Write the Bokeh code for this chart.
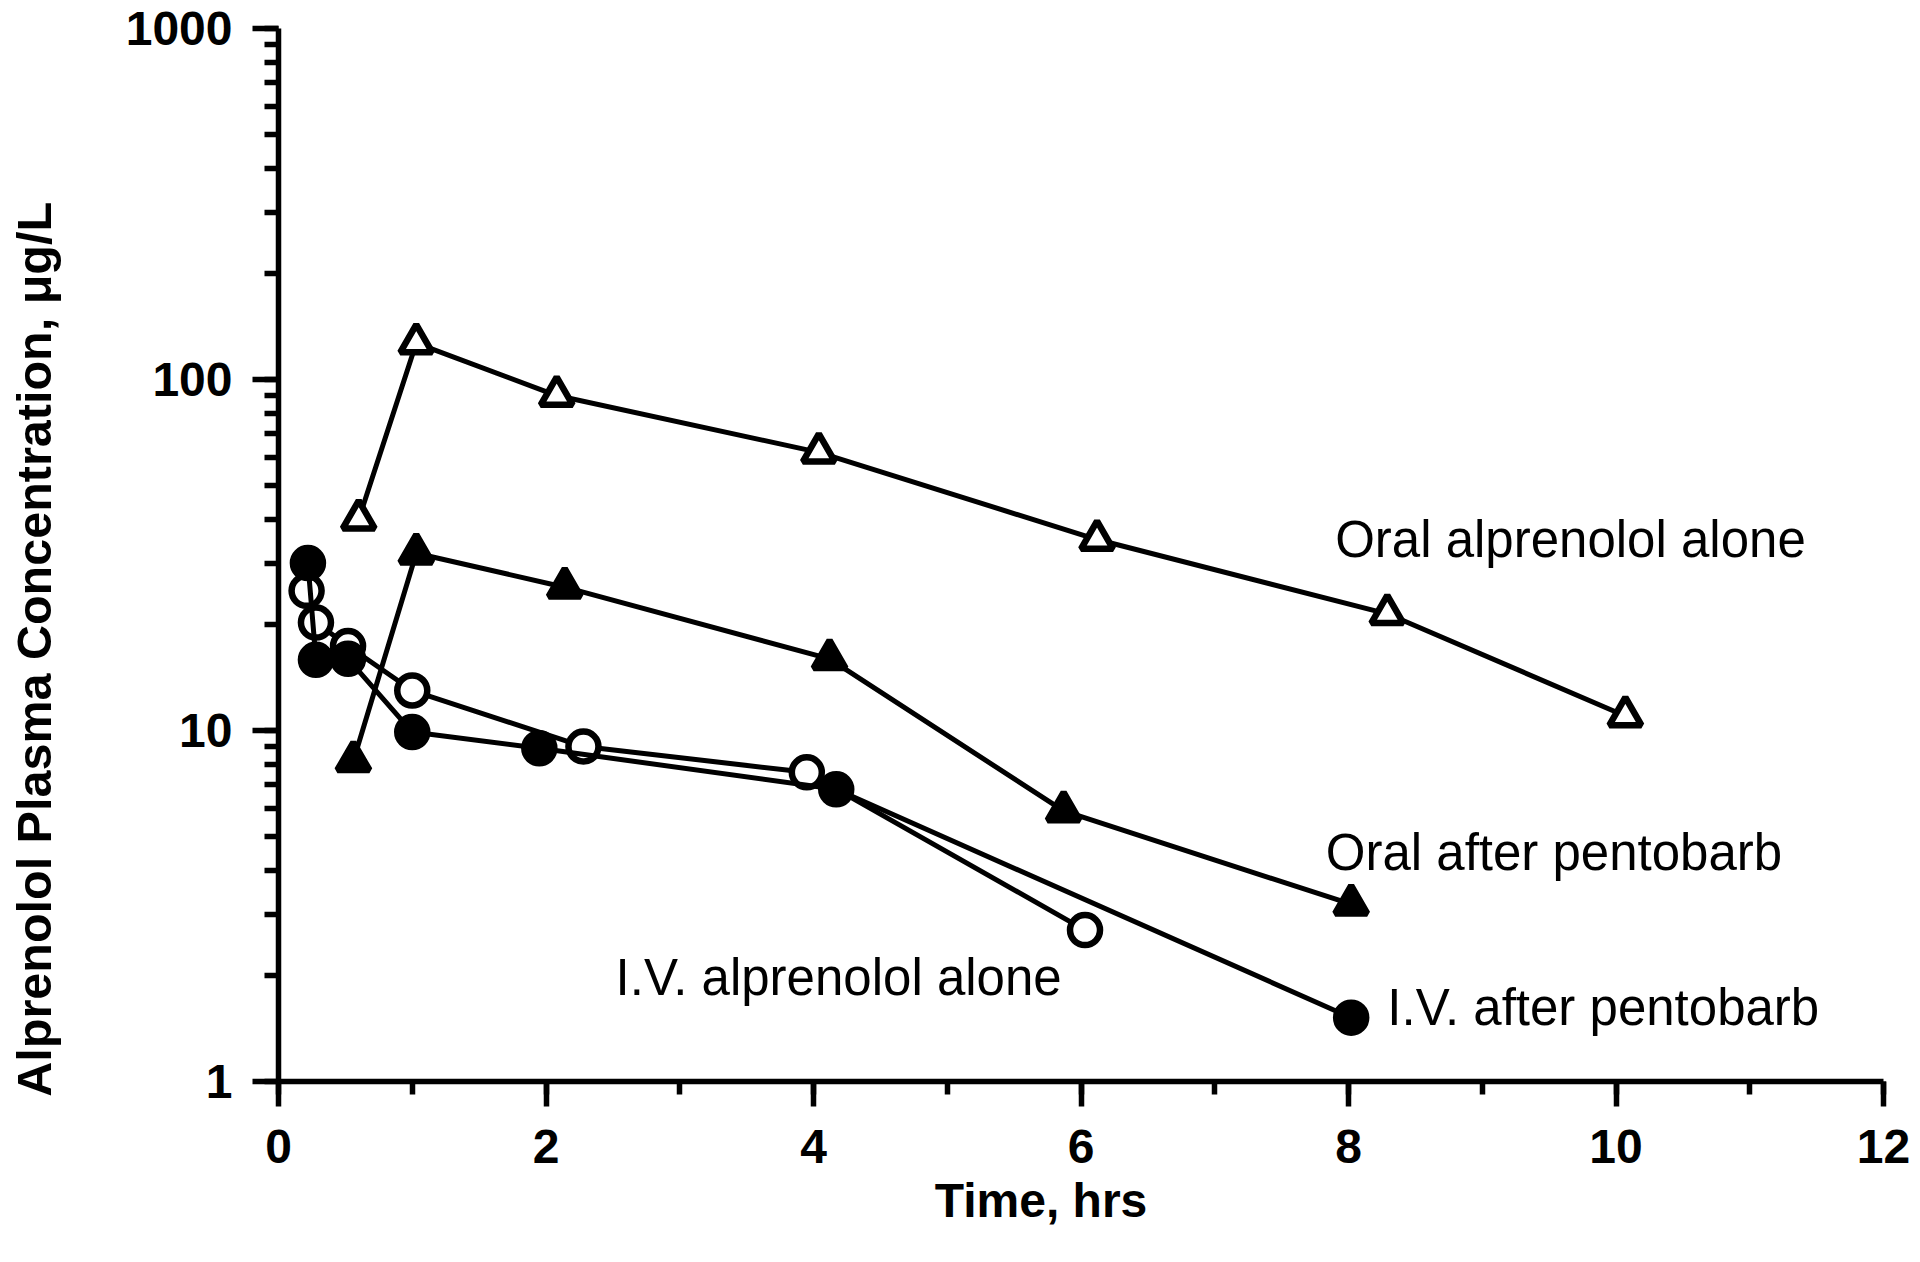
from bokeh.plotting import figure
from bokeh.models import LogTicker, SingleIntervalTicker, Label, Range1d, PrintfTickFormatter
from bokeh.embed import file_html
from bokeh.resources import INLINE

# ---- data (time in hrs, concentration in ug/L) ----
oral_alone_t = [0.6, 1.03, 2.08, 4.04, 6.12, 8.29, 10.07]
oral_alone_c = [40, 127, 90, 62, 35, 21.5, 11]

oral_pento_t = [0.56, 1.03, 2.14, 4.12, 5.87, 8.02]
oral_pento_c = [8.2, 32, 25.6, 16, 5.9, 3.2]

iv_alone_t = [0.21, 0.28, 0.52, 1.0, 2.28, 3.95, 6.03]
iv_alone_c = [25, 20.3, 17.4, 13, 9.0, 7.6, 2.7]

iv_pento_t = [0.22, 0.28, 0.52, 1.0, 1.95, 4.17, 8.02]
iv_pento_c = [30, 15.9, 16, 9.9, 8.9, 6.8, 1.52]

series_labels = ["Oral alprenolol alone", "Oral after pentobarb",
                 "I.V. alprenolol alone", "I.V. after pentobarb"]
label_x = [7.90, 7.83, 2.52, 8.29]
label_y = [35.0, 4.5, 1.98, 1.62]

NBSP = "\u00a0"
x_title = "Time, hrs"
y_title = "Alprenolol Plasma Concentration, \u03bcg/L"

X_MIN, X_MAX = 0, 12
Y_MIN, Y_MAX = 1, 1000

FONT = "Liberation Sans"

# frame placement (pixels)
W, H = 1912, 1254
LEFT, TOP, RIGHT, BOTTOM = 278, 28, 1883, 1081

p = figure(width=W, height=H, y_axis_type="log",
           x_range=Range1d(X_MIN, X_MAX), y_range=Range1d(Y_MIN, Y_MAX),
           output_backend="svg", toolbar_location=None,
           min_border_left=LEFT, min_border_right=W - RIGHT,
           min_border_top=TOP, min_border_bottom=H - BOTTOM)

p.outline_line_color = None
p.xgrid.visible = False
p.ygrid.visible = False
p.background_fill_color = "white"
p.border_fill_color = "white"

LW = 5
MLW = 6.5
MS_C = 30
MS_T = 32

# I.V. alprenolol alone (open circles)
p.line(iv_alone_t, iv_alone_c, line_color="black", line_width=LW)
p.scatter(iv_alone_t, iv_alone_c, marker="circle", size=MS_C,
          fill_color="white", line_color="black", line_width=MLW)

# I.V. after pentobarb (filled circles)
p.line(iv_pento_t, iv_pento_c, line_color="black", line_width=LW)
p.scatter(iv_pento_t, iv_pento_c, marker="circle", size=MS_C,
          fill_color="black", line_color="black", line_width=MLW)

# Oral after pentobarb (filled triangles)
p.line(oral_pento_t, oral_pento_c, line_color="black", line_width=LW)
p.scatter(oral_pento_t, oral_pento_c, marker="triangle", size=MS_T,
          fill_color="black", line_color="black", line_width=MLW)

# Oral alprenolol alone (open triangles)
p.line(oral_alone_t, oral_alone_c, line_color="black", line_width=LW)
p.scatter(oral_alone_t, oral_alone_c, marker="triangle", size=MS_T,
          fill_color="white", line_color="black", line_width=MLW)

for t, x, y in zip(series_labels, label_x, label_y):
    p.add_layout(Label(x=x, y=y, text=t, text_font=FONT, text_font_size="51px",
                       text_color="black", text_baseline="middle", text_align="left"))

# ---- axes ----
p.xaxis.ticker = SingleIntervalTicker(interval=2, num_minor_ticks=2)
p.yaxis.ticker = LogTicker(num_minor_ticks=10)
p.yaxis.formatter = PrintfTickFormatter(format="%d")

for ax in (p.xaxis[0], p.yaxis[0]):
    ax.axis_line_width = 5.5
    ax.axis_line_color = "black"
    ax.major_tick_line_width = 5.5
    ax.minor_tick_line_width = 5.5
    ax.major_tick_line_color = "black"
    ax.minor_tick_line_color = "black"
    ax.major_tick_in = 0
    ax.minor_tick_in = 0
    ax.major_label_text_font = FONT
    ax.major_label_text_font_style = "bold"
    ax.major_label_text_font_size = "48px"
    ax.major_label_text_color = "black"
    ax.axis_label_text_font = FONT
    ax.axis_label_text_font_style = "bold"
    ax.axis_label_text_color = "black"

p.xaxis.major_tick_out = 25
p.xaxis.minor_tick_out = 13
p.xaxis.major_label_standoff = 23
p.yaxis.major_tick_out = 26
p.yaxis.minor_tick_out = 14
p.yaxis.major_label_standoff = 20

# titles: trailing non-breaking spaces shift the centred text off the frame centre
p.xaxis.axis_label = x_title + NBSP * 6
p.xaxis.axis_label_text_font_size = "48px"
p.xaxis.axis_label_standoff = 8

p.yaxis.axis_label = y_title + NBSP * 14
p.yaxis.axis_label_text_font_size = "48.5px"
p.yaxis.axis_label_standoff = 62

open("out.html", "w").write(file_html(p, INLINE))
